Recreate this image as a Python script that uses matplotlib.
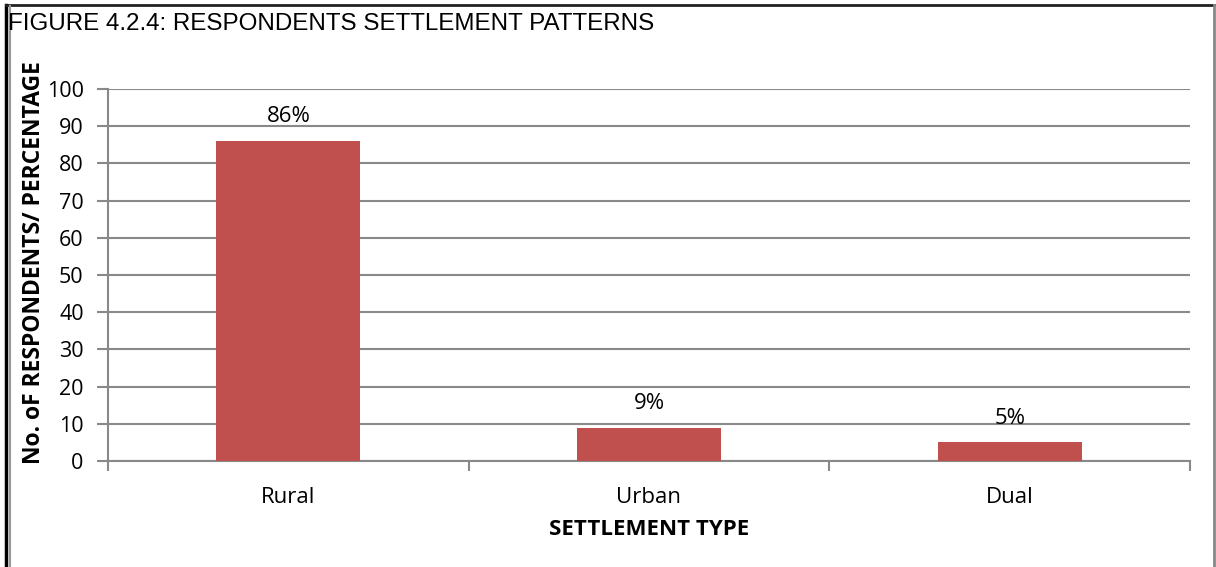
import matplotlib.pyplot as plt
from matplotlib.lines import Line2D

# settlement type counts (percent of respondents)
categories = ['Rural', 'Urban', 'Dual']
values = [86, 9, 5]
yticks = [0, 10, 20, 30, 40, 50, 60, 70, 80, 90, 100]

W, H = 1216, 567
fig = plt.figure(figsize=(W / 100, H / 100), dpi=100)
fig.patch.set_facecolor('white')

# plot area in pixels: x 108..1190, y 89..461
ax = fig.add_axes([108 / W, (H - 461) / H, (1190 - 108) / W, (461 - 89) / H])

grid = '#898989'
x = list(range(len(categories)))
ax.bar(x, values, width=0.4, color='#C0504D', zorder=3)
for xi, v in zip(x, values):
    ax.annotate(f'{v}%', (xi, v), xytext=(0, 10), textcoords='offset points',
                ha='center', va='bottom', fontsize=16, family='Open Sans',
                color='black')

ax.set_xlim(-0.5, 2.5)
ax.set_ylim(0, 100)
ax.set_yticks(yticks)
ax.set_xticks(x)
ax.set_xticklabels(categories, family='Open Sans', fontsize=16)
ax.set_xticks([-0.5, 0.5, 1.5, 2.5], minor=True)
ax.tick_params(axis='x', which='major', length=0, pad=18.5)
ax.tick_params(axis='x', which='minor', length=7, width=1.5, color=grid)
ax.tick_params(axis='y', length=8, width=1.5, color=grid, pad=9.5, labelsize=15.5)
for lab in ax.get_yticklabels():
    lab.set_family('Open Sans')

ax.yaxis.grid(True, color=grid, linewidth=1.5, zorder=0)
for s in ('top', 'right'):
    ax.spines[s].set_visible(False)
for s in ('left', 'bottom'):
    ax.spines[s].set_color(grid)
    ax.spines[s].set_linewidth(1.5)

ax.set_xlabel('SETTLEMENT TYPE', family='Open Sans', fontweight='bold',
              fontsize=16, labelpad=8)
fig.text(34 / W, 1 - 263 / H, 'No. oF RESPONDENTS/ PERCENTAGE', rotation=90,
         ha='center', va='center', family='Open Sans', fontweight='bold',
         fontsize=16.5)

fig.text(8 / W, 1 - 24.5 / H, 'FIGURE 4.2.4: RESPONDENTS SETTLEMENT PATTERNS',
         ha='left', va='center', family='Liberation Sans', fontsize=17.4)

# outer frame
fig.add_artist(Line2D([5.5 / W, 5.5 / W], [0, 1 - 4.5 / H], color='black', lw=2.5))
fig.add_artist(Line2D([5.5 / W, 1214 / W], [1 - 4.5 / H, 1 - 4.5 / H], color='#222222', lw=2))
fig.add_artist(Line2D([10 / W, 10 / W], [0, 1 - 6 / H], color='#999999', lw=1.5))
fig.add_artist(Line2D([1213.5 / W, 1213.5 / W], [0, 1 - 4.5 / H], color='#888888', lw=2))

fig.savefig('out.png', dpi=100)
